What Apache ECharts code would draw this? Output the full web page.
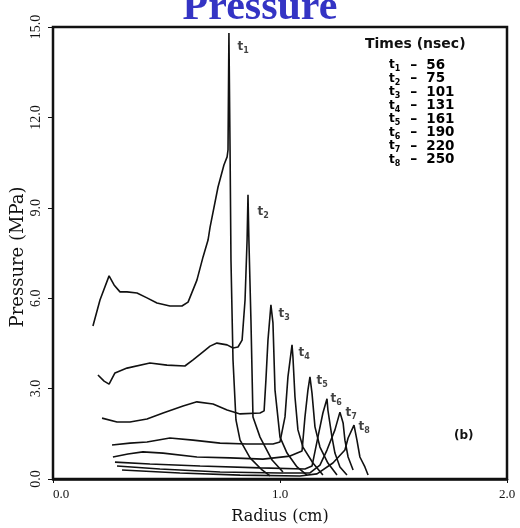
<!DOCTYPE html>
<html><head><meta charset="utf-8">
<script src="https://cdn.jsdelivr.net/npm/echarts@6/dist/echarts.min.js"></script>
<style>html,body{margin:0;padding:0;background:#fff}#c{width:520px;height:528px}</style>
</head><body><div id="c"></div>
<script>
// ---------- data ----------
const curveNames = ['1','2','3','4','5','6','7','8'];
const timesNsec = [56, 75, 101, 131, 161, 190, 220, 250];
const xTickLabels = ['0.0', '1.0', '2.0'];
const yTickLabels = ['0.0', '3.0', '6.0', '9.0', '12.0', '15.0'];

const t1 = [[0.176,5.08],[0.207,5.94],[0.247,6.74],[0.269,6.44],[0.295,6.21],[0.326,6.21],[0.370,6.17],[0.414,6.01],[0.458,5.84],[0.515,5.74],[0.568,5.74],[0.595,5.87],[0.634,6.60],[0.661,7.37],[0.683,7.93],[0.692,8.36],[0.727,9.69],[0.753,10.42],[0.767,10.69],[0.771,10.92],[0.775,14.80],[0.780,10.92],[0.784,7.27],[0.793,3.95],[0.806,1.96],[0.824,1.29],[0.868,0.70],[0.921,0.30],[0.956,0.10]];
const t2 = [[0.198,3.45],[0.225,3.25],[0.247,3.15],[0.273,3.52],[0.326,3.68],[0.427,3.85],[0.502,3.78],[0.581,3.75],[0.617,3.95],[0.661,4.22],[0.692,4.41],[0.722,4.51],[0.767,4.45],[0.793,4.35],[0.815,4.38],[0.833,4.61],[0.846,5.94],[0.855,7.93],[0.859,9.43],[0.863,7.93],[0.872,5.28],[0.881,2.06],[0.912,1.39],[0.965,0.63],[1.013,0.23]];
const t3 = [[0.216,2.02],[0.282,1.89],[0.339,1.89],[0.414,1.99],[0.485,2.19],[0.573,2.42],[0.634,2.56],[0.705,2.49],[0.767,2.29],[0.824,2.16],[0.912,2.19],[0.930,2.26],[0.938,3.29],[0.947,4.61],[0.960,5.78],[0.969,5.18],[0.978,2.95],[1.000,1.39],[1.031,0.86],[1.075,0.40],[1.119,0.13]];
const t4 = [[0.260,1.13],[0.339,1.19],[0.414,1.23],[0.515,1.36],[0.617,1.29],[0.736,1.19],[0.855,1.16],[0.969,1.16],[1.000,1.23],[1.022,2.06],[1.035,3.39],[1.053,4.45],[1.057,4.05],[1.066,2.72],[1.079,1.63],[1.101,1.06],[1.145,0.53],[1.189,0.13]];
const t5 = [[0.264,0.73],[0.330,0.83],[0.396,0.90],[0.485,0.86],[0.634,0.73],[0.780,0.70],[0.925,0.66],[1.044,0.76],[1.097,0.93],[1.110,2.06],[1.123,2.95],[1.132,3.39],[1.141,2.85],[1.154,1.73],[1.176,1.06],[1.211,0.53],[1.251,0.13]];
const t6 = [[0.273,0.56],[0.427,0.50],[0.648,0.43],[0.912,0.37],[1.110,0.33],[1.141,0.43],[1.167,1.39],[1.189,2.19],[1.207,2.66],[1.211,2.29],[1.229,1.39],[1.242,0.86],[1.264,0.40],[1.295,0.13]];
const t7 = [[0.282,0.43],[0.471,0.33],[0.736,0.23],[1.000,0.20],[1.132,0.20],[1.176,0.46],[1.207,0.96],[1.242,1.63],[1.264,2.22],[1.278,1.86],[1.286,1.29],[1.300,0.73],[1.322,0.30]];
const t8 = [[0.304,0.30],[0.559,0.20],[0.824,0.13],[1.088,0.10],[1.163,0.17],[1.233,0.53],[1.286,0.96],[1.300,1.36],[1.326,1.79],[1.339,1.29],[1.352,0.73],[1.374,0.40],[1.388,0.13]];
const curves = [t1, t2, t3, t4, t5, t6, t7, t8];

// ---------- styling / layout ----------
const peakLabelOffsets = [[8,14],[9,17],[7,9],[6,8],[6,4],[3,0],[5,1],[4,2]];
const ink = '#111';
const subRich = {
  t: {fontFamily: 'DejaVu Sans', fontWeight: 'bold', fontSize: 12, lineHeight: 16, color: ink},
  s: {fontFamily: 'DejaVu Sans', fontWeight: 'bold', fontSize: 8, lineHeight: 9, verticalAlign: 'bottom', color: ink},
  d: {fontFamily: 'DejaVu Sans', fontWeight: 'bold', fontSize: 14, lineHeight: 16, color: ink, padding: [0, 9, 0, 10]},
  v: {fontFamily: 'DejaVu Sans', fontWeight: 'bold', fontSize: 13.5, lineHeight: 16, color: ink}
};

const chart = echarts.init(document.getElementById('c'), null, {renderer: 'canvas'});

const lineSeries = curves.map((c, i) => ({
  type: 'line', data: c, symbol: 'none', smooth: false, z: 3,
  lineStyle: {color: ink, width: 1.6},
  silent: true, animation: false
}));

const peaks = curves.map((c, i) => {
  let best = c[0];
  c.forEach(p => { if (p[1] > best[1]) best = p; });
  return {
    value: best,
    label: {
      show: true, position: 'right', distance: 0,
      offset: peakLabelOffsets[i],
      formatter: '{t|t}{s|' + curveNames[i] + '}',
      rich: subRich
    }
  };
});

const legendLines = timesNsec.map((v, i) => ({
  type: 'text', left: 389, top: 58 + i * 13.5,
  style: {text: '{t|t}{s|' + curveNames[i] + '}{d|\u2013}{v|' + v + '}', rich: subRich}
}));

chart.setOption({
  animation: false,
  backgroundColor: '#fff',
  grid: {left: 53, right: 13, top: 27, bottom: 49, show: true, borderColor: ink, borderWidth: 2.5,
         containLabel: false, outerBoundsMode: 'none'},
  xAxis: {
    type: 'value', min: 0, max: 2, interval: 1,
    axisLine: {show: true, onZero: false, lineStyle: {color: ink, width: 2.5}},
    axisTick: {show: true, length: 4, lineStyle: {color: ink}},
    splitLine: {show: false},
    axisLabel: {
      color: ink, fontFamily: 'Liberation Serif', fontSize: 13, margin: 9,
      formatter: (v) => xTickLabels[Math.round(v)], alignMinLabel: 'left'
    },
    name: 'Radius (cm)', nameLocation: 'middle', nameGap: 30,
    nameTextStyle: {color: ink, fontFamily: 'DejaVu Serif', fontSize: 16}
  },
  yAxis: {
    type: 'value', min: 0, max: 15, interval: 3,
    axisLine: {show: true, onZero: false, lineStyle: {color: ink, width: 2}},
    axisTick: {show: true, length: 5, lineStyle: {color: ink}},
    splitLine: {show: false},
    axisLabel: {
      color: ink, fontFamily: 'Liberation Serif', fontSize: 14, rotate: 90, margin: 10,
      formatter: (v) => yTickLabels[Math.round(v / 3)]
    }
  },
  series: lineSeries.concat([{
    type: 'scatter', data: peaks, symbol: 'circle', symbolSize: 1, z: 4,
    itemStyle: {color: 'rgba(0,0,0,0)'}, silent: true
  }]),
  graphic: [
    {type: 'text', left: 'center', top: -13,
     style: {text: 'Pressure', fontFamily: 'Liberation Serif', fontWeight: 'bold', fontSize: 42, fill: '#3434c4'}},
    {type: 'text', x: 18, y: 257, rotation: Math.PI / 2,
     style: {text: 'Pressure (MPa)', fontFamily: 'DejaVu Serif', fontSize: 18, fill: ink, align: 'center', verticalAlign: 'middle'}},
    {type: 'text', left: 365, top: 37,
     style: {text: 'Times (nsec)', fontFamily: 'DejaVu Sans', fontWeight: 'bold', fontSize: 14, fill: ink}},
    {type: 'text', left: 454, top: 430,
     style: {text: '(b)', fontFamily: 'DejaVu Sans', fontWeight: 'bold', fontSize: 12, fill: ink}}
  ].concat(legendLines)
});
</script>
</body></html>
